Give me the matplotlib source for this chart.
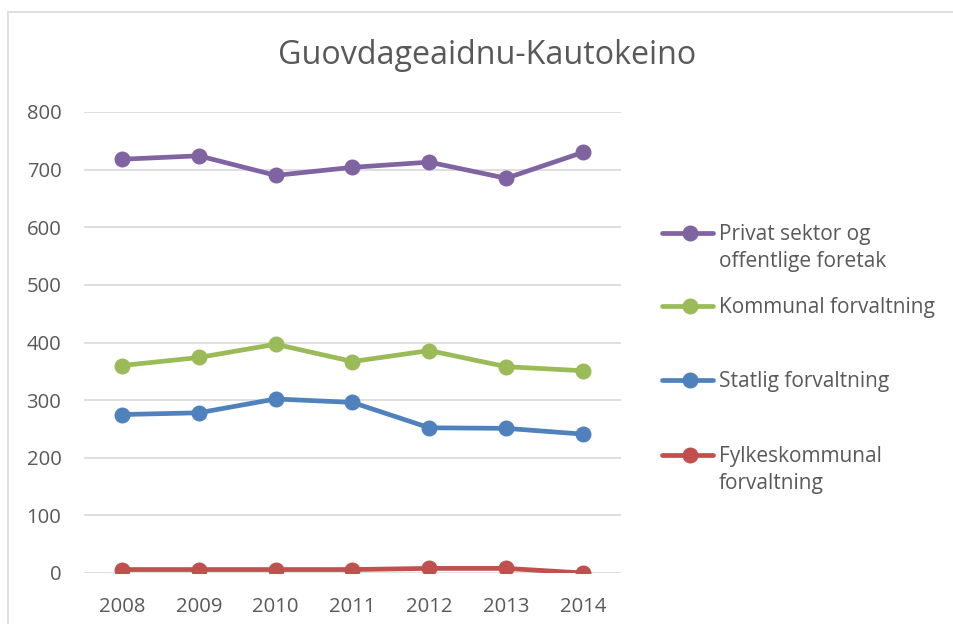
import matplotlib.pyplot as plt
from matplotlib.lines import Line2D
from matplotlib.patches import Rectangle

plt.rcParams['font.family'] = ['Open Sans', 'DejaVu Sans']

years = ['2008', '2009', '2010', '2011', '2012', '2013', '2014']
privat = [718, 724, 690, 704, 713, 685, 730]
kommunal = [360, 374, 397, 367, 386, 358, 351]
statlig = [275, 278, 302, 296, 252, 251, 241]
fylke = [6, 6, 6, 6, 8, 8, 0]

labels = ['Privat sektor og\noffentlige foretak', 'Kommunal forvaltning',
          'Statlig forvaltning', 'Fylkeskommunal\nforvaltning']
colors = ['#8064A2', '#9BBB59', '#4F81BD', '#C0504D']
series = [privat, kommunal, statlig, fylke]

W, H = 954, 624
fig = plt.figure(figsize=(W / 100, H / 100), dpi=100)
ax = fig.add_axes([83.6 / W, 1 - 573 / H, (621.4 - 83.6) / W, (573 - 112) / H])

# chart border
fig.add_artist(Rectangle((8 / W, -0.05), 1.2, 1 - 12 / H + 0.05, transform=fig.transFigure,
                         fill=False, edgecolor='#d9d9d9', lw=1.2))

x = range(len(years))
for vals, c in zip(series, colors):
    ax.plot(x, vals, color=c, lw=3.4, marker='o', ms=10.5, solid_capstyle='round', zorder=3)

ax.set_xlim(-0.5, len(years) - 0.5)
ax.set_ylim(0, 800)
ax.set_yticks(range(0, 801, 100))
ax.set_xticks(list(x))
ax.set_xticklabels(years)
ax.grid(axis='y', color='#d9d9d9', lw=1.2)
ax.set_axisbelow(True)
for s in ax.spines.values():
    s.set_visible(False)
ax.tick_params(length=0, labelsize=14.6, colors='#595959')
ax.tick_params(axis='x', pad=17)
ax.tick_params(axis='y', pad=16)

fig.text(487 / W, 1 - 55 / H, 'Guovdageaidnu-Kautokeino', ha='center', va='center',
         fontsize=23.2, color='#595959')

# legend
leg_y = [233, 306, 380, 455]
for lab, c, yy in zip(labels, colors, leg_y):
    yf = 1 - yy / H
    fig.add_artist(Line2D([662 / W, 713 / W], [yf, yf], color=c, lw=3.4,
                          solid_capstyle='round', transform=fig.transFigure))
    fig.add_artist(Line2D([690 / W], [yf], color=c, marker='o', ms=10.5,
                          transform=fig.transFigure))
    fig.text(719 / W, yf + 9 / H, lab, ha='left', va='top', fontsize=15,
             color='#595959', linespacing=1.35)

fig.savefig('out.png', dpi=100)
